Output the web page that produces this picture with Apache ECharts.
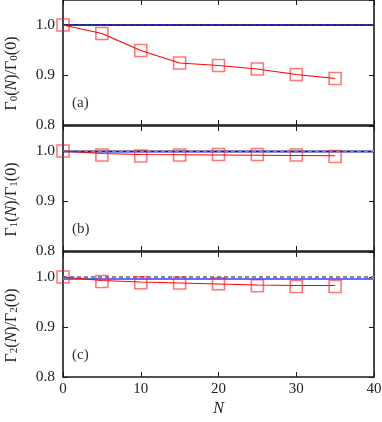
<!DOCTYPE html>
<html>
<head>
<meta charset="utf-8">
<script src="https://cdn.jsdelivr.net/npm/echarts@6/dist/echarts.min.js"></script>
<style>html,body{margin:0;padding:0;background:#fff}#c{width:382px;height:422px}</style>
</head>
<body>
<div id="c"></div>
<script>
const nValues = [0, 5, 10, 15, 20, 25, 30, 35];
const gamma0Markers = [1.0, 0.983, 0.949, 0.924, 0.919, 0.912, 0.901, 0.893];
const gamma0Line    = [1.0, 0.983, 0.949, 0.924, 0.919, 0.912, 0.901, 0.893];
const gamma1Markers = [1.0, 0.992, 0.990, 0.992, 0.993, 0.993, 0.992, 0.989];
const gamma1Line    = [1.0, 0.995, 0.993, 0.9925, 0.992, 0.9915, 0.991, 0.9905];
const gamma2Markers = [1.0, 0.991, 0.9886, 0.988, 0.9866, 0.9826, 0.981, 0.981];
const gamma2Line    = [1.0, 0.993, 0.990, 0.988, 0.986, 0.984, 0.983, 0.983];
const refLevels  = [1.0, 1.0, 1.0];
const blueLevels = [1.0, 0.999, 0.996];
const blueColors = ['#1a1acc', '#1010d0', '#6a6aff'];
const panelLabels = ['(a)', '(b)', '(c)'];
const subscripts = ['0', '1', '2'];
const xTicks = [0, 10, 20, 30, 40];
const yTicks = [0.8, 0.9, 1.0];

const FONT = '"Liberation Serif", "DejaVu Serif", serif';
const markers = [gamma0Markers, gamma1Markers, gamma2Markers];
const lines = [gamma0Line, gamma1Line, gamma2Line];
const tops = [0, 126, 252];
const H = 125;

const grids = [], xAxes = [], yAxes = [], series = [], graphics = [];
const frameLine = {show: true, onZero: false, lineStyle: {color: '#1a1a1a', width: 1.6}};
const tick = {show: true, inside: true, length: 5, lineStyle: {color: '#1a1a1a', width: 1}};

for (let p = 0; p < 3; p++) {
  grids.push({left: 63, right: 8, top: tops[p], height: H, outerBoundsMode: 'none', containLabel: false});
  const isLast = p === 2;
  xAxes.push({
    gridIndex: p, type: 'value', min: 0, max: 40, interval: 10, position: 'bottom',
    axisLine: frameLine, axisTick: tick, splitLine: {show: false},
    axisLabel: {show: isLast, fontFamily: FONT, fontSize: 15, color: '#222', margin: 5,
      formatter: v => (xTicks.indexOf(v) >= 0 ? String(v) : '')},
    name: isLast ? 'N' : '', nameLocation: 'middle', nameGap: 24,
    nameTextStyle: {fontFamily: FONT, fontSize: 16, fontStyle: 'italic', color: '#222'}
  });
  xAxes.push({
    gridIndex: p, type: 'value', min: 0, max: 40, interval: 10, position: 'top',
    axisLine: frameLine, axisTick: tick, splitLine: {show: false}, axisLabel: {show: false}
  });
  const s = subscripts[p];
  yAxes.push({
    gridIndex: p, type: 'value', min: 0.8, max: 1.05, interval: 0.1, position: 'left',
    axisLine: frameLine, axisTick: tick, splitLine: {show: false},
    axisLabel: {fontFamily: FONT, fontSize: 15.5, color: '#222', margin: 8, showMaxLabel: false,
      formatter: v => (yTicks.some(t => Math.abs(t - v) < 1e-6) ? v.toFixed(1) : '')},
    name: '{g|\u0393}{s|' + s + '}{g|(}{i|N}{g|)/\u0393}{s|' + s + '}{g|(0)}',
    nameLocation: 'middle', nameGap: 43,
    nameTextStyle: {
      padding: [0, 22, 0, 0],
      rich: {
        g: {fontFamily: FONT, fontSize: 16, lineHeight: 16, verticalAlign: 'top', color: '#222'},
        i: {fontFamily: FONT, fontSize: 16, lineHeight: 16, verticalAlign: 'top', fontStyle: 'italic', color: '#222'},
        s: {fontFamily: FONT, fontSize: 11, lineHeight: 11, verticalAlign: 'bottom', color: '#222', padding: [9, 0, 0, 0]}
      }
    }
  });
  yAxes.push({
    gridIndex: p, type: 'value', min: 0.8, max: 1.05, interval: 0.1, position: 'right',
    axisLine: frameLine, axisTick: tick, splitLine: {show: false}, axisLabel: {show: false}
  });
  const xi = p * 2, yi = p * 2;
  series.push({
    type: 'line', xAxisIndex: xi, yAxisIndex: yi, symbol: 'none', silent: true,
    data: [[0, blueLevels[p]], [40, blueLevels[p]]],
    lineStyle: {color: blueColors[p], width: 2}, z: 2
  });
  series.push({
    type: 'line', xAxisIndex: xi, yAxisIndex: yi, symbol: 'none', silent: true,
    data: [[0, refLevels[p]], [40, refLevels[p]]],
    lineStyle: {color: p === 0 ? '#333366' : '#888', width: 2, type: [4, 3]}, z: 3
  });
  series.push({
    type: 'line', xAxisIndex: xi, yAxisIndex: yi, symbol: 'none', silent: true,
    data: nValues.map((n, i) => [n, lines[p][i]]),
    lineStyle: {color: '#ff0000', width: 1.2}, z: 4
  });
  series.push({
    type: 'scatter', xAxisIndex: xi, yAxisIndex: yi, symbol: 'rect', symbolSize: 12, silent: true,
    data: nValues.map((n, i) => [n, markers[p][i]]),
    itemStyle: {color: 'rgba(0,0,0,0)', borderColor: 'rgba(255,30,30,0.75)', borderWidth: 1.6}, z: 5
  });
  graphics.push({
    type: 'text', left: 72, top: tops[p] + 96,
    style: {text: panelLabels[p], font: '15px "Liberation Serif", serif', fill: '#333'}
  });
}

const chart = echarts.init(document.getElementById('c'), null, {renderer: 'canvas'});
chart.setOption({
  animation: false,
  backgroundColor: '#fff',
  grid: grids, xAxis: xAxes, yAxis: yAxes, series: series, graphic: graphics
});
</script>
</body>
</html>
